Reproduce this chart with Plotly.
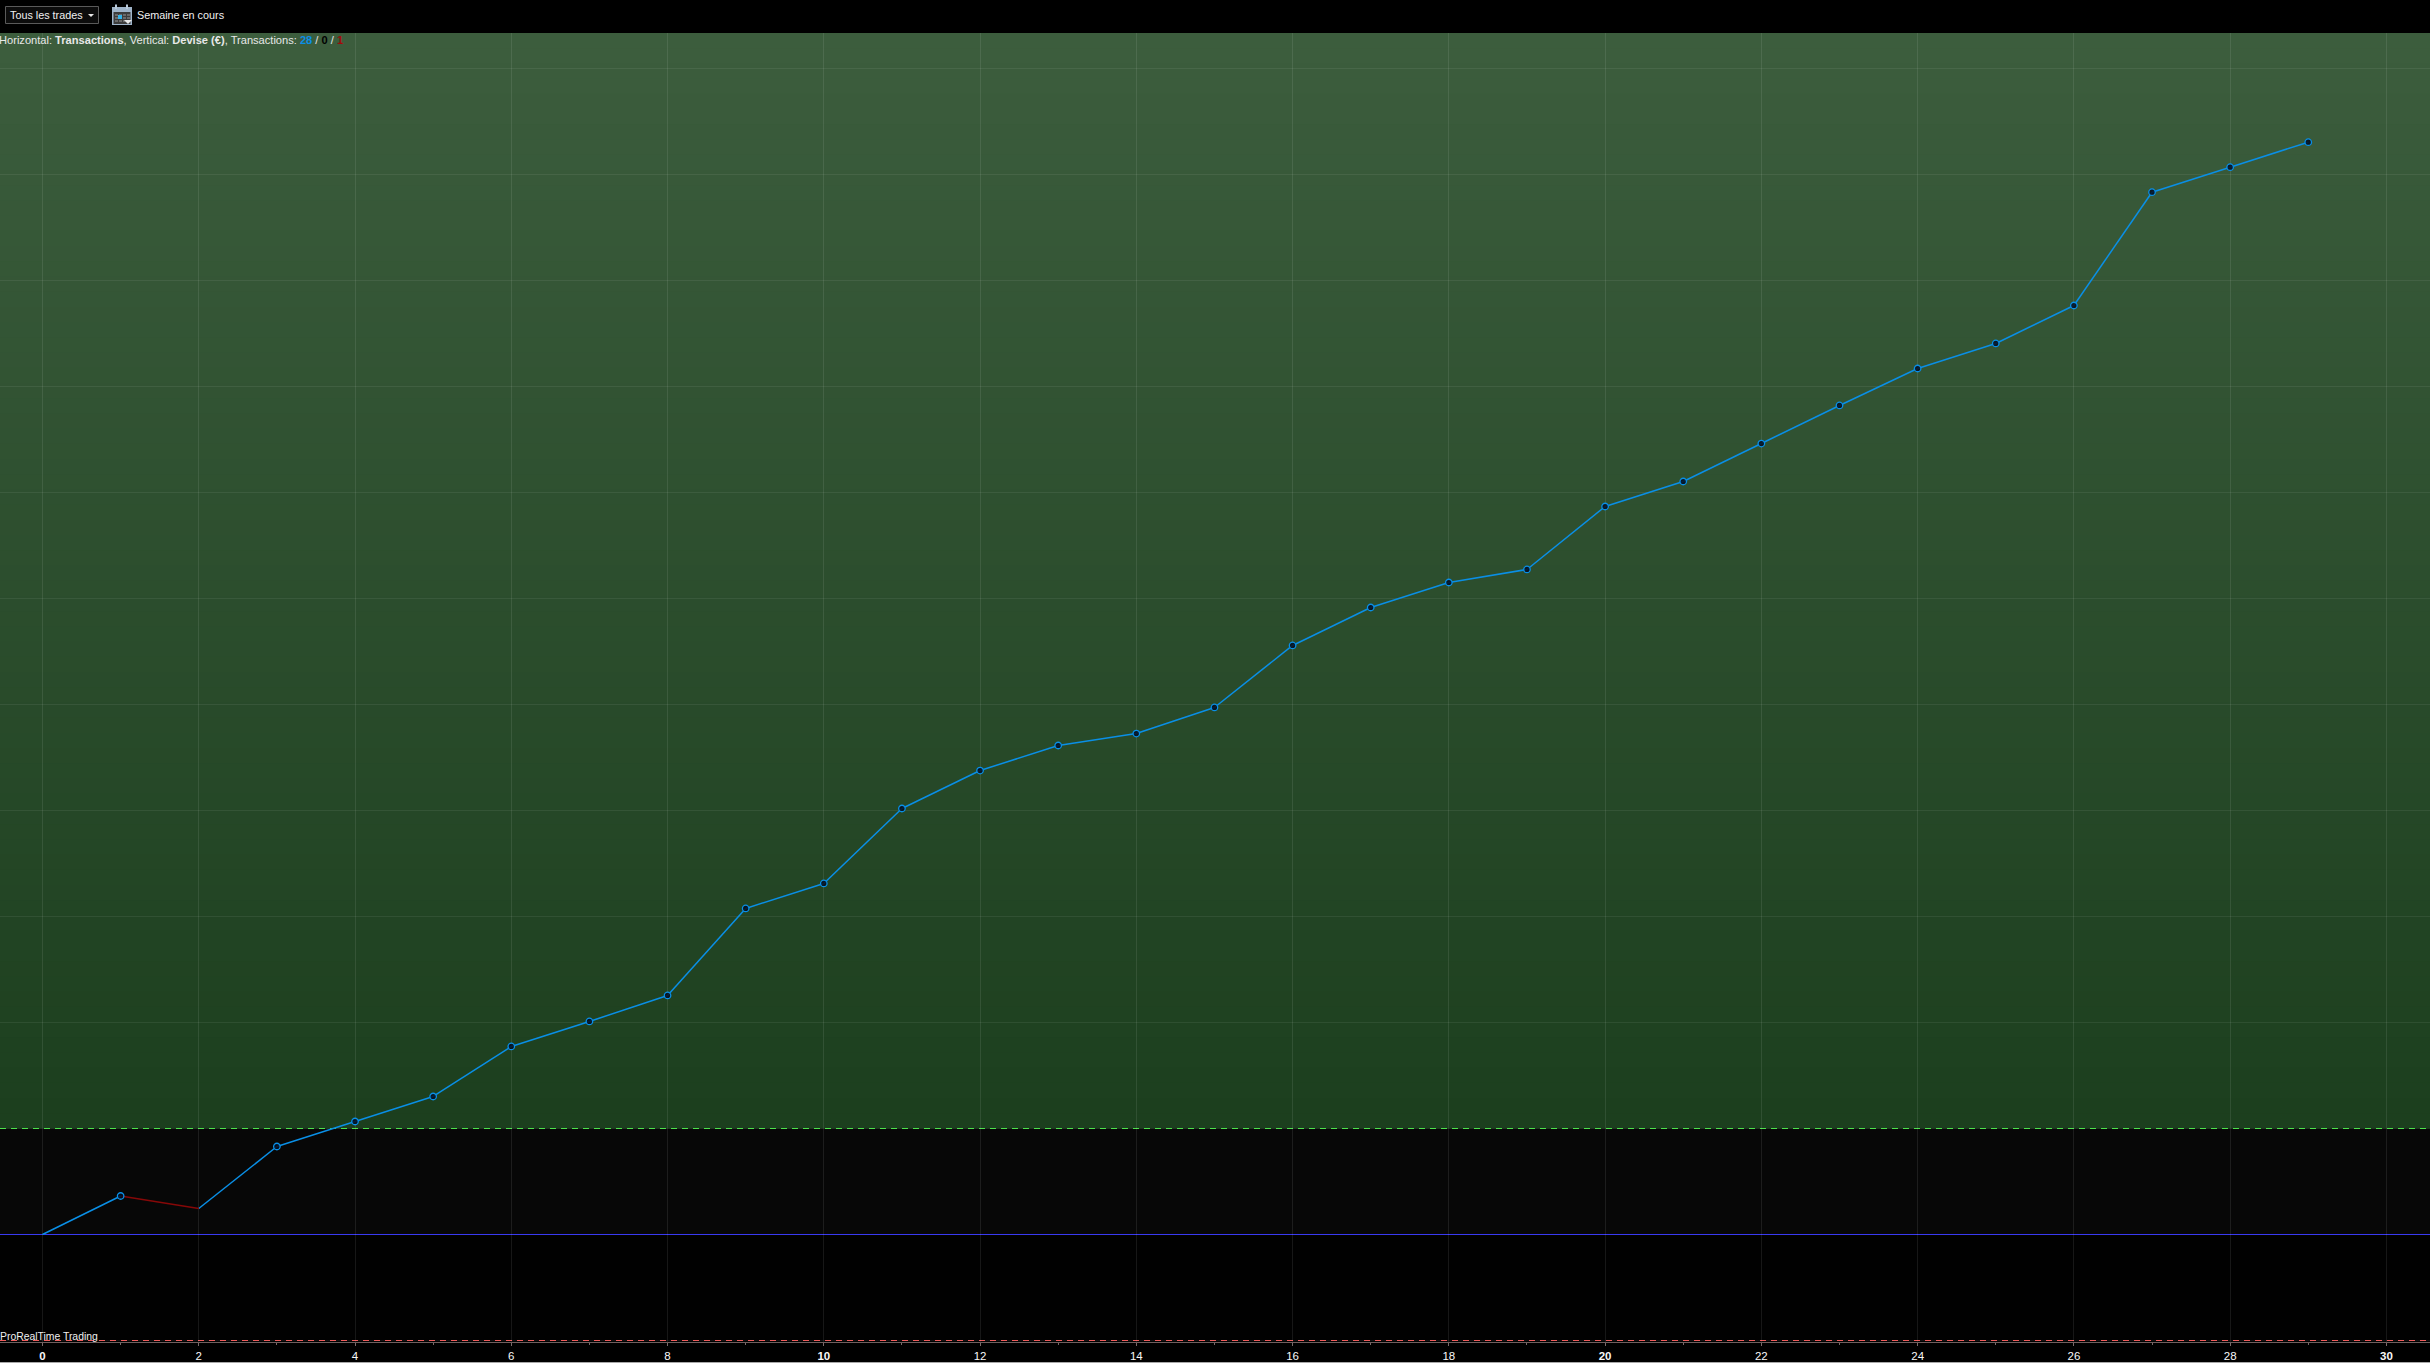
import plotly.graph_objects as go

# --- data ---
trade_index = list(range(30))
equity = [0.0, 36.3, 24.5, 83.0, 106.6, 130.2, 177.4, 201.0, 225.5, 307.6, 331.2, 401.9, 437.7,
          461.3, 472.6, 497.2, 555.7, 591.5, 615.1, 627.4, 686.8, 710.4, 746.2, 782.1, 817.0,
          840.6, 876.4, 983.3, 1006.9, 1030.5]
x_ticks = list(range(0, 31, 2))
x_tick_text = [f"<b>{v}</b>" if v % 10 == 0 else str(v) for v in x_ticks]
profit_line = 100
zero_line = 0
loss_line = -100

W, H = 2430, 1363
PLOT_TOP, PLOT_BOTTOM = 33, 1342
FONT = "Liberation Sans"
BLUE = "#0a8fe6"
DARK_RED = "#860808"

px_per_x = 78.13
x0_px = 42.5
x_range = [-x0_px / px_per_x, (W - x0_px) / px_per_x]
px_per_y = 1.06
y0_px = 1234.5
y_range = [(y0_px - PLOT_BOTTOM) / px_per_y, (y0_px - PLOT_TOP) / px_per_y]


def px(x):
    return x / W


def py(y):
    return (PLOT_BOTTOM - y) / (PLOT_BOTTOM - PLOT_TOP)


shapes = []


def rect(x0, y0, x1, y1, fill, line=None, width=1, layer="above"):
    shapes.append(dict(type="rect", xref="paper", yref="paper", x0=px(x0), x1=px(x1), y0=py(y1), y1=py(y0),
                       fillcolor=fill, line=dict(color=line or fill, width=width if line else 0), layer=layer))


# gradient background, below the grid (each band reaches down to the profit line so no seams show)
BANDS = 72
top_rgb, bot_rgb = (60, 93, 61), (28, 63, 30)
for i in range(BANDS):
    t = i / (BANDS - 1)
    c = tuple(round(a + (b - a) * t) for a, b in zip(top_rgb, bot_rgb))
    y_a = y_range[1] + (profit_line - y_range[1]) * i / BANDS
    shapes.append(dict(type="rect", xref="paper", yref="y", x0=0, x1=1, y0=profit_line, y1=y_a,
                       fillcolor=f"rgb{c}", line=dict(width=0), layer="below"))
shapes.append(dict(type="rect", xref="paper", yref="y", x0=0, x1=1, y0=zero_line, y1=profit_line,
                   fillcolor="#070707", line=dict(width=0), layer="below"))
shapes.append(dict(type="rect", xref="paper", yref="y", x0=0, x1=1, y0=y_range[0], y1=zero_line,
                   fillcolor="#010101", line=dict(width=0), layer="below"))

# reference lines
for val, col, dash in [(profit_line, "#3fe03f", "dash"), (zero_line, "#2a2af0", "solid"), (loss_line, "#f05050", "dash")]:
    shapes.append(dict(type="line", xref="paper", yref="y", x0=0, x1=1, y0=val, y1=val,
                       line=dict(color=col, width=1.2, dash="6px,5px" if dash == "dash" else "solid"), layer="between"))

# header widgets
rect(5.5, 6.5, 98.5, 23.5, "#0c0c0c", "#5a5a5a")
shapes.append(dict(type="path", xref="paper", yref="paper",
                   path=f"M {px(88)} {py(14)} L {px(94)} {py(14)} L {px(91)} {py(17)} Z",
                   fillcolor="#e8e8e8", line=dict(width=0), layer="above"))
rect(112, 7, 132, 25, "#9fb4c9")
rect(113.5, 12, 130.5, 24, "#3c3c3c")
for cx in range(115, 129, 4):
    for cy in range(14, 23, 3):
        rect(cx, cy, cx + 3, cy + 2, "#6a6a6a")
rect(118, 15, 122, 19, "#35b4e8")
rect(115, 4.5, 117, 9, "#b8c8d8")
rect(126, 4.5, 128, 9, "#b8c8d8")
shapes.append(dict(type="path", xref="paper", yref="paper",
                   path=f"M {px(124)} {py(20)} L {px(132)} {py(20)} L {px(128)} {py(24)} Z",
                   fillcolor="#e8e8e8", line=dict(width=0), layer="above"))
rect(0, 1362, W, 1363, "#a8a8a8")


def note(x, y, text, size=10.8, color="#f0f0f0", anchor="left"):
    return dict(xref="paper", yref="paper", x=px(x), y=py(y), text=text, showarrow=False, xanchor=anchor,
                yanchor="middle", font=dict(family=FONT, size=size, color=color))


annotations = [
    note(7.5, 15, "Tous les trades", size=10.8),
    note(134.5, 15, "Semaine en cours", size=10.8),
    note(-3.5, 40, "Horizontal: <b>Transactions</b>, Vertical: <b>Devise (€)</b>, Transactions: "
         f"<b><span style='color:{BLUE}'>28</span></b> / <b><span style='color:#000000'>0</span></b> / "
         f"<b><span style='color:#a00a0a'>1</span></b>", size=11.1, color="#e8e8e8"),
    note(-2, 1336, "ProRealTime Trading", size=10.4),
]

# split curve into winning and losing segments
win_x, win_y, loss_x, loss_y, mark_x, mark_y = [], [], [], [], [], []
for i in range(1, len(equity)):
    if equity[i] >= equity[i - 1]:
        win_x += [trade_index[i - 1], trade_index[i], None]
        win_y += [equity[i - 1], equity[i], None]
        mark_x.append(trade_index[i])
        mark_y.append(equity[i])
    else:
        loss_x += [trade_index[i - 1], trade_index[i], None]
        loss_y += [equity[i - 1], equity[i], None]

fig = go.Figure()
fig.add_trace(go.Scatter(x=win_x, y=win_y, mode="lines", line=dict(color=BLUE, width=1.5), hoverinfo="skip"))
fig.add_trace(go.Scatter(x=loss_x, y=loss_y, mode="lines", line=dict(color=DARK_RED, width=1.5), hoverinfo="skip"))
fig.add_trace(go.Scatter(x=mark_x, y=mark_y, mode="markers",
                         marker=dict(size=6.5, color="rgba(4,12,30,0.85)", line=dict(color=BLUE, width=1.3))))

fig.update_layout(
    width=W, height=H, autosize=False, showlegend=False,
    margin=dict(l=0, r=0, t=PLOT_TOP, b=H - PLOT_BOTTOM, pad=0),
    paper_bgcolor="#000000", plot_bgcolor="#000000",
    shapes=shapes, annotations=annotations,
    font=dict(family=FONT, color="#f0f0f0", size=12),
    xaxis=dict(range=x_range, tickvals=x_ticks, ticktext=x_tick_text, ticks="outside", ticklen=3, tickwidth=1,
               tickcolor="#7a6a6a", showgrid=True, gridcolor="rgba(255,255,255,0.09)", gridwidth=1, zeroline=False,
               showline=True, linecolor="#6f5f5f", linewidth=1, tickangle=0, fixedrange=True,
               tickfont=dict(family=FONT, size=11.5, color="#f8f8f8"),
               minor=dict(dtick=1, tick0=0, ticks="outside", ticklen=2, tickcolor="#7a6a6a", showgrid=False)),
    yaxis=dict(range=y_range, dtick=100, tick0=0, showticklabels=False, ticks="", showgrid=True,
               gridcolor="rgba(255,255,255,0.07)", gridwidth=1, zeroline=False, showline=False, fixedrange=True),
)
fig.write_html("out.html", config=dict(displayModeBar=False),
               post_script="document.body.style.margin='0';document.body.style.overflow='hidden';")
